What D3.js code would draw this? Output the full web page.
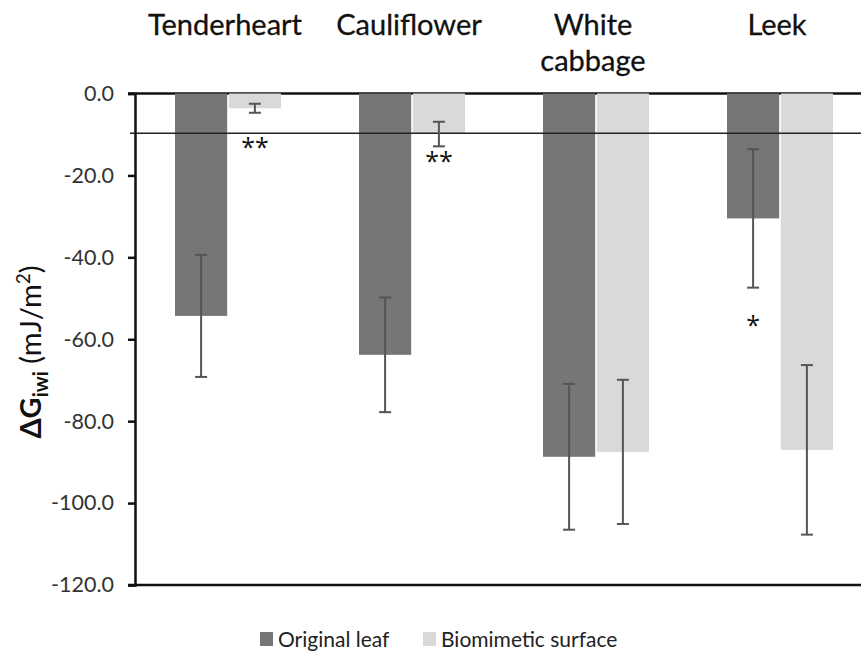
<!DOCTYPE html>
<html>
<head>
<meta charset="utf-8">
<script src="https://cdn.jsdelivr.net/npm/d3@7"></script>
<style>
  body { margin: 0; background: #fff; }
  svg { font-family: Lato, "Open Sans", sans-serif; }
</style>
</head>
<body>
<script>
const W = 861, H = 651;

// data
const categories = ['Tenderheart', 'Cauliflower', 'White cabbage', 'Leek'];
const series = ['Original leaf', 'Biomimetic surface'];
const originalLeaf = [-54.3, -63.8, -88.7, -30.5];
const originalErr = [14.9, 14.0, 17.8, 16.9];
const biomimetic = [-3.6, -9.9, -87.5, -87.0];
const biomimeticErr = [1.1, 3.0, 17.6, 20.7];
const yTicks = [0, -20, -40, -60, -80, -100, -120];
const refLine = -9.7;
// significance marks: category, series index, text, y value
const marks = [
  { cat: 'Tenderheart', s: 1, text: '**', v: -11.8 },
  { cat: 'Cauliflower', s: 1, text: '**', v: -15.2 },
  { cat: 'Leek', s: 0, text: '*', v: -55.3 }
];

const colors = ['#767676', '#d9d9d9'];

const svg = d3.select('body').append('svg')
  .attr('width', W)
  .attr('height', H);

const x = d3.scaleBand().domain(categories).range([136, 872])
  .paddingInner(0.424).paddingOuter(0.212);
const xs = d3.scaleBand().domain(d3.range(series.length)).range([0, x.bandwidth()])
  .paddingInner(0.03);
const y = d3.scaleLinear().domain([-120, 0]).range([585, 93.5]);

const rows = [];
categories.forEach((c, i) => {
  rows.push({ cat: c, s: 0, v: originalLeaf[i], e: originalErr[i] });
  rows.push({ cat: c, s: 1, v: biomimetic[i], e: biomimeticErr[i] });
});

// zero line (behind bars)
svg.append('line')
  .attr('x1', 128).attr('x2', W)
  .attr('y1', y(0)).attr('y2', y(0))
  .attr('stroke', '#111').attr('stroke-width', 2.5);

// bars
svg.append('g').selectAll('rect')
  .data(rows)
  .enter().append('rect')
  .attr('x', d => x(d.cat) + xs(d.s))
  .attr('y', y(0))
  .attr('width', xs.bandwidth())
  .attr('height', d => y(d.v) - y(0))
  .attr('fill', d => colors[d.s]);

// reference line
svg.append('line')
  .attr('x1', 130).attr('x2', W)
  .attr('y1', y(refLine)).attr('y2', y(refLine))
  .attr('stroke', '#222').attr('stroke-width', 1.3);

// error bars
const eb = svg.append('g').selectAll('g')
  .data(rows)
  .enter().append('g')
  .attr('stroke', '#555')
  .attr('stroke-width', 2);
const cx = d => x(d.cat) + xs(d.s) + xs.bandwidth() / 2;
eb.append('line')
  .attr('x1', cx).attr('x2', cx)
  .attr('y1', d => y(d.v + d.e)).attr('y2', d => y(d.v - d.e));
[1, -1].forEach(k => {
  eb.append('line')
    .attr('x1', d => cx(d) - 6).attr('x2', d => cx(d) + 6)
    .attr('y1', d => y(d.v + k * d.e)).attr('y2', d => y(d.v + k * d.e));
});

// y axis
const yAxis = d3.axisLeft(y).tickValues(yTicks).tickSize(7).tickPadding(14)
  .tickFormat(d3.format('.1f'));
const yg = svg.append('g')
  .attr('transform', 'translate(135,0)')
  .call(yAxis);
yg.select('.domain').attr('stroke', '#111').attr('stroke-width', 2.5);
yg.selectAll('.tick line').attr('stroke', '#111').attr('stroke-width', 2.5);
yg.selectAll('.tick text')
  .text(d => d3.format('.1f')(d).replace('−', '-'))
  .attr('fill', '#333')
  .style('font-size', '21.5px')
  .style('font-family', 'Lato, sans-serif');

// bottom line
svg.append('line')
  .attr('x1', 128).attr('x2', W)
  .attr('y1', y(-120)).attr('y2', y(-120))
  .attr('stroke', '#111').attr('stroke-width', 2.5);

// category labels on top
const lab = svg.append('g').selectAll('text')
  .data(categories)
  .enter().append('text')
  .attr('text-anchor', 'middle')
  .attr('fill', '#111')
  .attr('stroke', '#111').attr('stroke-width', 0.3)
  .style('font-size', '29px')
  .attr('y', 35);
lab.each(function (d) {
  const words = d === 'White cabbage' ? ['White', 'cabbage'] : [d];
  words.forEach((w, i) => {
    d3.select(this).append('tspan')
      .attr('x', x(d) + x.bandwidth() / 2 - 3)
      .attr('dy', i === 0 ? 0 : 36)
      .text(w);
  });
});

// significance marks
svg.append('g').selectAll('text')
  .data(marks)
  .enter().append('text')
  .attr('text-anchor', 'middle')
  .attr('fill', '#111')
  .style('font-size', '25px')
  .style('font-family', '"Open Sans", sans-serif')
  .attr('x', d => x(d.cat) + xs(d.s) + xs.bandwidth() / 2)
  .attr('y', d => y(d.v) + 14)
  .text(d => d.text);

// y title
const yt = svg.append('text')
  .attr('transform', 'translate(41,352) rotate(-90)')
  .attr('text-anchor', 'middle')
  .attr('fill', '#111')
  .style('font-size', '29px');
yt.append('tspan').attr('font-weight', 'bold').text('ΔG');
yt.append('tspan').attr('font-weight', 'bold').style('font-size', '20px').attr('dy', 7).text('iwi');
yt.append('tspan').attr('dy', -7).text(' (mJ/m');
yt.append('tspan').style('font-size', '19px').attr('dy', -11).text('2');
yt.append('tspan').attr('dy', 11).text(')');

// legend
const lg = svg.append('g').attr('transform', 'translate(260,639)');
const lx = [0, 163];
series.forEach((s, i) => {
  lg.append('rect')
    .attr('x', lx[i]).attr('y', -7)
    .attr('width', 13).attr('height', 14)
    .attr('fill', colors[i]);
  lg.append('text')
    .attr('x', lx[i] + 18).attr('y', 7.5)
    .attr('fill', '#222')
    .style('font-size', '21px')
    .text(s);
});
</script>
</body>
</html>
